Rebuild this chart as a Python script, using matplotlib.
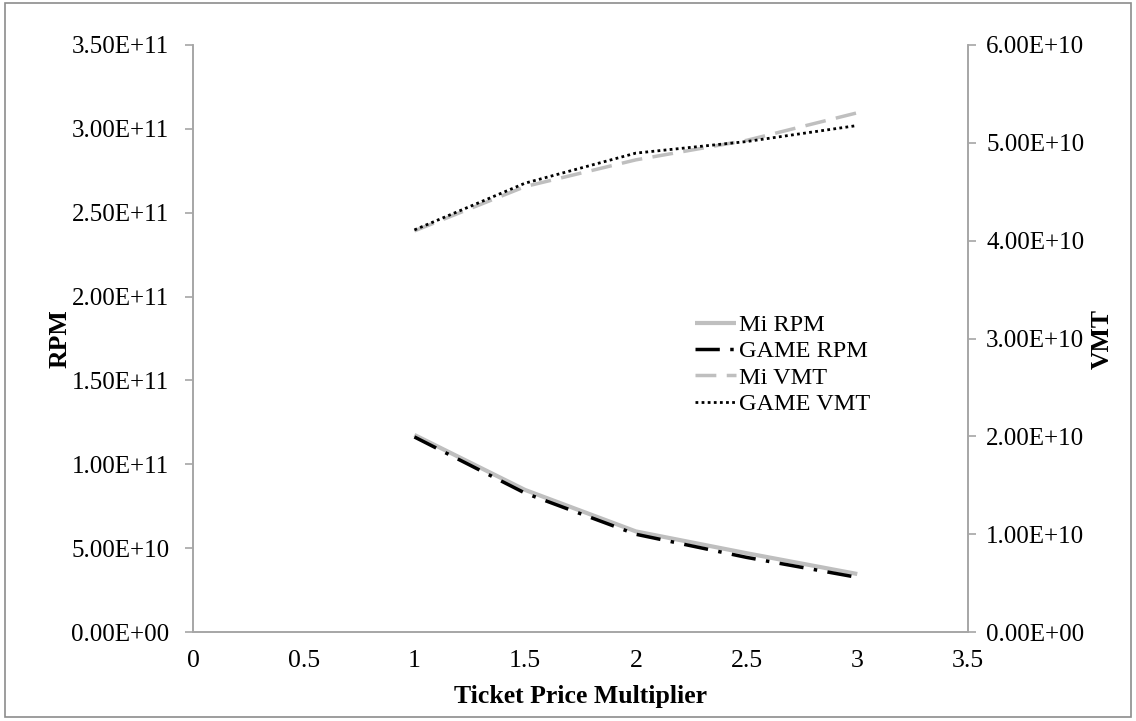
import numpy as np
from matplotlib import pyplot as plt
from matplotlib.patches import Rectangle

plt.rcParams['font.family'] = ['Liberation Serif', 'DejaVu Serif']

# data
multiplier = [1, 1.5, 2, 2.5, 3]
mi_rpm = [1.175e11, 0.847e11, 0.600e11, 0.470e11, 0.346e11]
game_rpm = [1.163e11, 0.828e11, 0.583e11, 0.445e11, 0.326e11]
mi_vmt = [4.10e10, 4.553e10, 4.826e10, 5.025e10, 5.307e10]
game_vmt = [4.11e10, 4.588e10, 4.895e10, 5.013e10, 5.177e10]

left_ticks = np.arange(0, 3.51e11, 0.5e11)
right_ticks = np.arange(0, 6.01e10, 1e10)
x_ticks = [0, 0.5, 1, 1.5, 2, 2.5, 3, 3.5]


def sci(v):
    if v == 0:
        return '0.00E+00'
    e = int(np.floor(np.log10(v)))
    return '%.2fE+%02d' % (v / 10 ** e, e)


fs = 18.5
grey = '#a6a6a6'

fig = plt.figure(figsize=(11.36, 7.21), dpi=100)
fig.patches.append(Rectangle((0.004, 0.006), 0.992, 0.99, transform=fig.transFigure,
                             fill=False, edgecolor='#8c8c8c', linewidth=1.2))

ax = fig.add_axes([0.1699, 0.1234, 0.6822, 0.8142])
ax2 = ax.twinx()

l1, = ax.plot(multiplier, mi_rpm, color='#bfbfbf', lw=3, solid_capstyle='butt')
l2, = ax.plot(multiplier, game_rpm, color='black', lw=2.5, dashes=(7, 3, 1, 3))
l3, = ax2.plot(multiplier, mi_vmt, color='#bfbfbf', lw=2.5, dashes=(6, 3))
l4, = ax2.plot(multiplier, game_vmt, color='black', lw=2, dashes=(1, 1.2))

ax.set_xlim(0, 3.5)
ax.set_ylim(0, 3.5e11)
ax2.set_ylim(0, 6e10)
ax.set_xticks(x_ticks)
ax.set_xticklabels([str(t) for t in x_ticks])
ax.set_yticks(left_ticks)
ax.set_yticklabels([sci(v) for v in left_ticks])
ax2.set_yticks(right_ticks)
ax2.set_yticklabels([sci(v) for v in right_ticks])

for a in (ax, ax2):
    a.spines['top'].set_visible(False)
    for s in ('left', 'right', 'bottom'):
        a.spines[s].set_color(grey)
        a.spines[s].set_linewidth(1.2)
ax.tick_params(axis='y', labelsize=18, color=grey, length=6, width=1.2, pad=11)
ax2.tick_params(axis='y', labelsize=18, color=grey, length=6, width=1.2, pad=7)
ax.tick_params(axis='x', labelsize=fs, length=0, pad=13)

ax.set_xlabel('Ticket Price Multiplier', fontsize=fs, fontweight='bold', labelpad=9)
ax.set_ylabel('RPM', fontsize=fs, fontweight='bold', labelpad=0)
ax2.set_ylabel('VMT', fontsize=fs, fontweight='bold', labelpad=5)

ax2.legend([l1, l2, l3, l4], ['Mi RPM', 'GAME RPM', 'Mi VMT', 'GAME VMT'],
           loc='upper left', bbox_to_anchor=(695 / 1136, 1 - 314 / 721),
           bbox_transform=fig.transFigure, frameon=False, fontsize=17.5,
           handlelength=1.7, handletextpad=0.1, labelspacing=0.18, borderpad=0,
           borderaxespad=0)

fig.savefig('out.png', dpi=100)
